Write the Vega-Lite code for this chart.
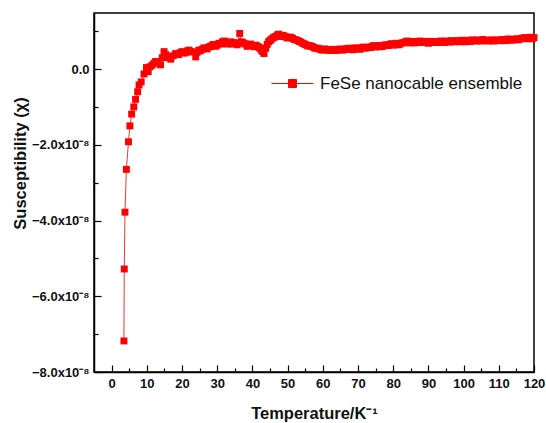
{
  "$schema": "https://vega.github.io/schema/vega-lite/v6.json",
  "width": 440,
  "height": 359,
  "autosize": {"type": "none"},
  "padding": {"left": 94, "top": 13, "right": 12, "bottom": 51},
  "background": "white",
  "config": {
    "view": {"stroke": "black", "strokeWidth": 1.5},
    "font": "Liberation Sans"
  },
  "data": {
    "values": [
      {"T": 3.5, "chi": -7.18}, {"T": 3.6, "chi": -5.28}, {"T": 3.8, "chi": -3.78}, {"T": 4.2, "chi": -2.65},
      {"T": 4.8, "chi": -1.92}, {"T": 5.2, "chi": -1.5}, {"T": 5.7, "chi": -1.19}, {"T": 6.3, "chi": -1.0},
      {"T": 6.8, "chi": -0.8}, {"T": 7.4, "chi": -0.6}, {"T": 7.8, "chi": -0.42}, {"T": 8.4, "chi": -0.34},
      {"T": 9.2, "chi": -0.13}, {"T": 9.9, "chi": 0.04}, {"T": 10.4, "chi": -0.07}, {"T": 10.9, "chi": 0.06},
      {"T": 11.5, "chi": 0.1}, {"T": 12.0, "chi": 0.15}, {"T": 12.5, "chi": 0.2}, {"T": 13.0, "chi": 0.19},
      {"T": 13.9, "chi": 0.11}, {"T": 14.4, "chi": 0.3}, {"T": 14.9, "chi": 0.46}, {"T": 15.4, "chi": 0.38},
      {"T": 15.8, "chi": 0.32}, {"T": 16.3, "chi": 0.3}, {"T": 16.8, "chi": 0.26}, {"T": 17.5, "chi": 0.35},
      {"T": 18.2, "chi": 0.41}, {"T": 19.0, "chi": 0.38}, {"T": 19.6, "chi": 0.44}, {"T": 20.1, "chi": 0.46},
      {"T": 20.6, "chi": 0.42}, {"T": 21.0, "chi": 0.44}, {"T": 21.5, "chi": 0.48}, {"T": 22.0, "chi": 0.5},
      {"T": 22.5, "chi": 0.46}, {"T": 23.0, "chi": 0.45}, {"T": 23.9, "chi": 0.32}, {"T": 24.3, "chi": 0.44},
      {"T": 24.8, "chi": 0.5}, {"T": 25.2, "chi": 0.48}, {"T": 25.7, "chi": 0.52}, {"T": 26.2, "chi": 0.56},
      {"T": 26.7, "chi": 0.55}, {"T": 27.1, "chi": 0.53}, {"T": 27.6, "chi": 0.58}, {"T": 28.1, "chi": 0.6},
      {"T": 28.6, "chi": 0.63}, {"T": 29.0, "chi": 0.65}, {"T": 29.5, "chi": 0.6}, {"T": 30.0, "chi": 0.63},
      {"T": 30.5, "chi": 0.68}, {"T": 31.0, "chi": 0.66}, {"T": 31.5, "chi": 0.72}, {"T": 32.0, "chi": 0.74},
      {"T": 32.4, "chi": 0.7}, {"T": 32.9, "chi": 0.66}, {"T": 33.3, "chi": 0.69}, {"T": 33.8, "chi": 0.72},
      {"T": 34.2, "chi": 0.66}, {"T": 34.7, "chi": 0.7}, {"T": 35.2, "chi": 0.68}, {"T": 35.7, "chi": 0.64},
      {"T": 36.4, "chi": 0.94}, {"T": 36.8, "chi": 0.72}, {"T": 37.2, "chi": 0.7}, {"T": 37.6, "chi": 0.68},
      {"T": 38.0, "chi": 0.66}, {"T": 38.5, "chi": 0.6}, {"T": 39.0, "chi": 0.63}, {"T": 39.5, "chi": 0.66},
      {"T": 40.0, "chi": 0.62}, {"T": 40.5, "chi": 0.59}, {"T": 41.0, "chi": 0.63}, {"T": 41.4, "chi": 0.6},
      {"T": 41.8, "chi": 0.58}, {"T": 42.1, "chi": 0.55}, {"T": 42.5, "chi": 0.5}, {"T": 42.9, "chi": 0.46},
      {"T": 43.3, "chi": 0.41}, {"T": 43.8, "chi": 0.55}, {"T": 44.2, "chi": 0.65}, {"T": 44.6, "chi": 0.72},
      {"T": 45.0, "chi": 0.75}, {"T": 45.3, "chi": 0.78}, {"T": 45.8, "chi": 0.82}, {"T": 46.2, "chi": 0.84},
      {"T": 46.6, "chi": 0.86}, {"T": 47.1, "chi": 0.9}, {"T": 47.5, "chi": 0.92}, {"T": 47.8, "chi": 0.88},
      {"T": 48.2, "chi": 0.86}, {"T": 48.7, "chi": 0.89}, {"T": 49.0, "chi": 0.87}, {"T": 49.4, "chi": 0.85},
      {"T": 49.9, "chi": 0.82}, {"T": 50.4, "chi": 0.84}, {"T": 50.9, "chi": 0.84}, {"T": 51.4, "chi": 0.81},
      {"T": 51.9, "chi": 0.78}, {"T": 52.4, "chi": 0.77}, {"T": 52.9, "chi": 0.75}, {"T": 53.3, "chi": 0.73},
      {"T": 53.8, "chi": 0.71}, {"T": 54.3, "chi": 0.68}, {"T": 54.8, "chi": 0.66}, {"T": 55.2, "chi": 0.64},
      {"T": 55.7, "chi": 0.61}, {"T": 56.2, "chi": 0.62}, {"T": 56.7, "chi": 0.6}, {"T": 57.1, "chi": 0.59},
      {"T": 57.6, "chi": 0.56}, {"T": 58.0, "chi": 0.55}, {"T": 58.5, "chi": 0.55}, {"T": 59.0, "chi": 0.53},
      {"T": 59.5, "chi": 0.51}, {"T": 60.0, "chi": 0.5}, {"T": 60.5, "chi": 0.53}, {"T": 61.0, "chi": 0.52},
      {"T": 61.5, "chi": 0.5}, {"T": 62.0, "chi": 0.49}, {"T": 62.5, "chi": 0.5}, {"T": 63.0, "chi": 0.52},
      {"T": 63.5, "chi": 0.49}, {"T": 64.0, "chi": 0.5}, {"T": 64.5, "chi": 0.52}, {"T": 65.0, "chi": 0.53},
      {"T": 65.5, "chi": 0.5}, {"T": 66.0, "chi": 0.51}, {"T": 66.5, "chi": 0.53}, {"T": 67.0, "chi": 0.54},
      {"T": 67.5, "chi": 0.55}, {"T": 68.0, "chi": 0.52}, {"T": 68.5, "chi": 0.51}, {"T": 69.0, "chi": 0.55},
      {"T": 69.5, "chi": 0.56}, {"T": 70.0, "chi": 0.54}, {"T": 70.5, "chi": 0.52}, {"T": 71.0, "chi": 0.56},
      {"T": 71.5, "chi": 0.58}, {"T": 72.0, "chi": 0.55}, {"T": 72.5, "chi": 0.56}, {"T": 73.0, "chi": 0.58},
      {"T": 73.5, "chi": 0.57}, {"T": 74.0, "chi": 0.6}, {"T": 74.5, "chi": 0.62}, {"T": 75.0, "chi": 0.58},
      {"T": 75.5, "chi": 0.6}, {"T": 76.0, "chi": 0.62}, {"T": 76.5, "chi": 0.59}, {"T": 77.0, "chi": 0.6},
      {"T": 77.5, "chi": 0.63}, {"T": 78.0, "chi": 0.64}, {"T": 78.5, "chi": 0.62}, {"T": 79.0, "chi": 0.65},
      {"T": 79.5, "chi": 0.67}, {"T": 80.0, "chi": 0.63}, {"T": 80.5, "chi": 0.66}, {"T": 81.0, "chi": 0.68},
      {"T": 81.5, "chi": 0.64}, {"T": 82.0, "chi": 0.66}, {"T": 82.5, "chi": 0.69}, {"T": 83.0, "chi": 0.7},
      {"T": 83.5, "chi": 0.72}, {"T": 84.0, "chi": 0.74}, {"T": 84.5, "chi": 0.69}, {"T": 85.0, "chi": 0.71},
      {"T": 85.5, "chi": 0.73}, {"T": 86.0, "chi": 0.69}, {"T": 86.5, "chi": 0.71}, {"T": 87.0, "chi": 0.72},
      {"T": 87.5, "chi": 0.74}, {"T": 88.0, "chi": 0.7}, {"T": 88.5, "chi": 0.72}, {"T": 89.0, "chi": 0.73},
      {"T": 89.5, "chi": 0.7}, {"T": 90.0, "chi": 0.68}, {"T": 90.5, "chi": 0.73}, {"T": 91.0, "chi": 0.71},
      {"T": 91.5, "chi": 0.7}, {"T": 92.0, "chi": 0.73}, {"T": 92.5, "chi": 0.72}, {"T": 93.0, "chi": 0.7},
      {"T": 93.5, "chi": 0.74}, {"T": 94.0, "chi": 0.72}, {"T": 94.5, "chi": 0.7}, {"T": 95.0, "chi": 0.74},
      {"T": 95.5, "chi": 0.73}, {"T": 96.0, "chi": 0.71}, {"T": 96.5, "chi": 0.75}, {"T": 97.0, "chi": 0.73},
      {"T": 97.5, "chi": 0.72}, {"T": 98.0, "chi": 0.75}, {"T": 98.5, "chi": 0.74}, {"T": 99.0, "chi": 0.72},
      {"T": 99.5, "chi": 0.76}, {"T": 100.0, "chi": 0.74}, {"T": 100.5, "chi": 0.72}, {"T": 101.0, "chi": 0.76},
      {"T": 101.5, "chi": 0.74}, {"T": 102.0, "chi": 0.73}, {"T": 102.5, "chi": 0.77}, {"T": 103.0, "chi": 0.75},
      {"T": 103.5, "chi": 0.74}, {"T": 104.0, "chi": 0.77}, {"T": 104.5, "chi": 0.75}, {"T": 105.0, "chi": 0.74},
      {"T": 105.5, "chi": 0.78}, {"T": 106.0, "chi": 0.76}, {"T": 106.5, "chi": 0.75}, {"T": 107.0, "chi": 0.74},
      {"T": 107.5, "chi": 0.76}, {"T": 108.0, "chi": 0.77}, {"T": 108.5, "chi": 0.74}, {"T": 109.0, "chi": 0.75},
      {"T": 109.5, "chi": 0.77}, {"T": 110.0, "chi": 0.76}, {"T": 110.5, "chi": 0.75}, {"T": 111.0, "chi": 0.78},
      {"T": 111.5, "chi": 0.77}, {"T": 112.0, "chi": 0.75}, {"T": 112.5, "chi": 0.79}, {"T": 113.0, "chi": 0.79},
      {"T": 113.5, "chi": 0.76}, {"T": 114.0, "chi": 0.77}, {"T": 114.5, "chi": 0.78}, {"T": 115.0, "chi": 0.8},
      {"T": 115.5, "chi": 0.77}, {"T": 116.0, "chi": 0.79}, {"T": 116.5, "chi": 0.81}, {"T": 117.0, "chi": 0.82},
      {"T": 117.5, "chi": 0.83}, {"T": 118.0, "chi": 0.8}, {"T": 118.5, "chi": 0.81}, {"T": 119.0, "chi": 0.84},
      {"T": 119.5, "chi": 0.8}, {"T": 120.0, "chi": 0.83}
    ]
  },
  "encoding": {
    "x": {
      "field": "T",
      "type": "quantitative",
      "scale": {"domain": [-5, 120], "nice": false, "zero": false},
      "axis": {
        "title": "Temperature/K⁻¹",
        "values": [0, 5, 10, 15, 20, 25, 30, 35, 40, 45, 50, 55, 60, 65, 70, 75, 80, 85, 90, 95, 100, 105, 110, 115, 120],
        "labelExpr": "datum.value % 10 === 0 ? datum.label : ''",
        "format": "d",
        "grid": false,
        "domainColor": "black",
        "domainWidth": 1.5,
        "tickColor": "black",
        "tickWidth": 1.2,
        "tickSize": {"condition": {"test": "datum.value % 10 === 0", "value": -7}, "value": -4},
        "labelPadding": 12,
        "labelFont": "Liberation Sans",
        "labelFontWeight": "bold",
        "labelFontSize": 13,
        "labelColor": "#111",
        "labelFlush": false,
        "labelOverlap": false,
        "titleFont": "Liberation Sans",
        "titleFontWeight": "bold",
        "titleFontSize": 16.5,
        "titleColor": "#111",
        "titleBaseline": "top",
        "titleY": 33
      }
    },
    "y": {
      "field": "chi",
      "type": "quantitative",
      "scale": {"domain": [-8, 1.48], "nice": false, "zero": false},
      "axis": {
        "title": "Susceptibility (χ)",
        "values": [-8, -7, -6, -5, -4, -3, -2, -1, 0, 1],
        "labelExpr": "datum.value % 2 === 0 ? (datum.value === 0 ? '0.0' : format(datum.value, '.1f') + 'x10⁻⁸') : ''",
        "grid": false,
        "domainColor": "black",
        "domainWidth": 1.5,
        "tickColor": "black",
        "tickWidth": 1.2,
        "tickSize": {"condition": {"test": "datum.value % 2 === 0", "value": -7}, "value": -4},
        "labelPadding": 12,
        "labelFont": "Liberation Sans",
        "labelFontWeight": "bold",
        "labelFontSize": 13,
        "labelColor": "#111",
        "labelFlush": false,
        "labelOverlap": false,
        "titleFont": "Liberation Sans",
        "titleFontWeight": "bold",
        "titleFontSize": 16.5,
        "titleColor": "#111",
        "titleAngle": 270,
        "titleAlign": "center",
        "titleBaseline": "middle",
        "titleX": -74,
        "titleY": 150
      }
    }
  },
  "layer": [
    {
      "mark": {"type": "line", "color": "#e03a3a", "strokeWidth": 1}
    },
    {
      "mark": {"type": "point", "shape": "square", "filled": true, "size": 48, "opacity": 1},
      "encoding": {
        "color": {
          "datum": "FeSe nanocable ensemble",
          "type": "nominal",
          "scale": {"range": ["#ff0000"]},
          "legend": {
            "title": null,
            "orient": "none",
            "legendX": 177,
            "legendY": 49,
            "symbolType": "M-1,0H1M-0.19,-0.19H0.19V0.19H-0.19Z",
            "symbolSize": 1764,
            "symbolStrokeColor": "#ff0000",
            "symbolFillColor": "#ff0000",
            "symbolStrokeWidth": 1,
            "symbolOpacity": 1,
            "labelFont": "Liberation Sans",
            "labelFontSize": 17,
            "labelColor": "#111",
            "labelOffset": 6,
            "labelLimit": 400
          }
        }
      }
    }
  ]
}
